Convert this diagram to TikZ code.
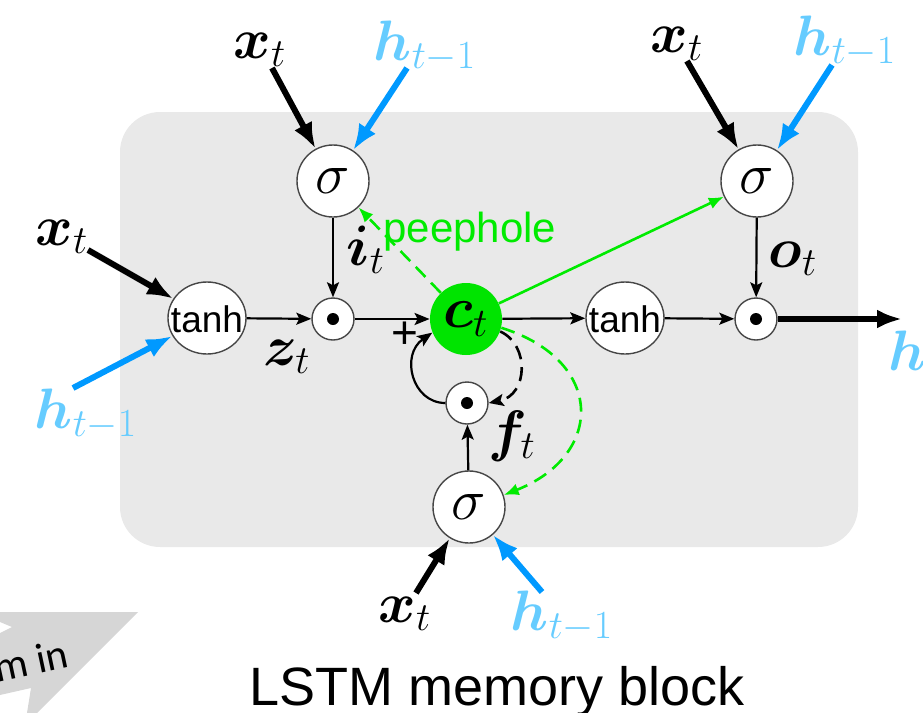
\RequirePackage{fix-cm}
\documentclass[tikz,border=0pt]{standalone}
\usepackage{fontspec}
\usepackage{bm}
\newfontfamily\helv{Liberation Sans}
\newfontfamily\calib{Carlito}
\usetikzlibrary{arrows.meta,shapes.geometric}
\definecolor{boxgray}{RGB}{233,233,233}
\definecolor{zoomgray}{RGB}{214,214,214}
\definecolor{lblue}{RGB}{102,204,255}
\definecolor{ablue}{RGB}{0,153,255}
\definecolor{vgreen}{RGB}{0,235,0}
\definecolor{cgreen}{RGB}{0,228,0}
\definecolor{rim}{RGB}{70,70,70}
\begin{document}
\begin{tikzpicture}[x=0.5pt,y=-0.5pt,
  mlab/.style={inner sep=0pt,anchor=base,font=\fontsize{28.5}{34}\selectfont},
  gate/.style={circle,draw=rim,line width=0.7pt,fill=white,minimum size=36pt,inner sep=0pt,font=\fontsize{29}{34}\selectfont},
  mult/.style={circle,draw=rim,line width=0.7pt,fill=white,minimum size=21pt,inner sep=0pt},
  squash/.style={ellipse,draw=rim,line width=0.7pt,fill=white,minimum width=39pt,minimum height=36pt,inner sep=0pt},
  sqtext/.style={inner sep=0pt,font=\helv\fontsize{18.5}{22}\selectfont},
  flowarrow/.style={line width=1.1pt,-{Stealth[length=7.5pt,width=6pt,inset=1.5pt]}},
  xin/.style={line width=3pt,black,-{Latex[length=13pt,width=10pt]}},
  hin/.style={line width=3pt,ablue,-{Latex[length=13pt,width=10pt]}},
  gdash/.style={line width=1.3pt,vgreen,dash pattern=on 7pt off 4pt,-{Latex[length=7.5pt,width=6pt]}},
  gline/.style={line width=1.3pt,vgreen,-{Latex[length=7.5pt,width=6pt]}},
  kdash/.style={line width=1.3pt,black,dash pattern=on 7pt off 4pt,-{Stealth[length=7.5pt,width=6pt,inset=1.5pt]}},
  outarrow/.style={line width=3.2pt,-{Latex[length=12.5pt,width=9.5pt]}}
]
\useasboundingbox (0,0) rectangle (923,713);
% background block
\fill[boxgray,rounded corners=20pt] (120,112) rectangle (858,547);
% zoom-in arrow fragment
\fill[zoomgray] (0,612) -- (138,612) -- (37,713) -- (27,713) -- (31,688) -- (0,695) -- (0,633) -- (12,627) -- (0,622) -- cycle;
\node[font=\calib\fontsize{21}{25}\selectfont,rotate=12,anchor=base east,inner sep=0pt] (zoomtxt) at (71,667) {zoom in};
% title
\node[font=\helv\fontsize{27}{32}\selectfont,anchor=base,inner sep=0pt] (title) at (497,705) {LSTM memory block};

% nodes
\node[gate] (sigI) at (333,181) {$\sigma$};
\node[gate] (sigO) at (757,181) {$\sigma$};
\node[gate] (sigF) at (469,507) {$\sigma$};
\node[squash] (tanhL) at (207,318) {};
\node[squash] (tanhR) at (625,318) {};
\node[sqtext] (tanhLt) at (207,319) {tanh};
\node[sqtext] (tanhRt) at (625,319) {tanh};
\node[mult] (mulI) at (333,319) {};
\node[mult] (mulO) at (756,319) {};
\node[mult] (mulF) at (467,403) {};
\fill (mulI) circle[radius=3pt];
\fill (mulO) circle[radius=3pt];
\fill (mulF) circle[radius=3pt];
\node[circle,fill=cgreen,minimum size=36pt,inner sep=0pt,font=\fontsize{29}{34}\selectfont] (ct) at (466,319) {$\bm{c}_t$};

% peephole connections
\draw[gdash] (ct) -- (sigI);
\draw[gline] (ct) -- (sigO);
\draw[gdash] (ct.-14) .. controls (605,360) and (605,455) .. (sigF.19);
\node[font=\helv\fontsize{21}{25}\selectfont,text=vgreen,anchor=base west,inner sep=0pt] (peep) at (383,242) {peephole};

% internal flow
\draw[flowarrow] (tanhL) -- (mulI);
\draw[flowarrow] (sigI) -- (mulI);
\draw[flowarrow] (mulI) -- (ct);
\draw[flowarrow] (ct) -- (tanhR);
\draw[flowarrow] (tanhR) -- (mulO);
\draw[flowarrow] (sigO) -- (mulO);
\draw[flowarrow] (sigF) -- (mulF);
\draw[flowarrow] (mulF.west) .. controls (412,403) and (400,355) .. (ct.202);
\draw[kdash] (ct.-20) .. controls (530,345) and (528,395) .. (mulF.east);
\node[font=\helv\fontsize{23}{26}\selectfont,inner sep=0pt] (plus) at (405,335) {+};

% output
\coordinate (hout) at (902,319);
\draw[outarrow] (mulO) -- (hout);

% external inputs
\coordinate (xIs) at (272,68);
\coordinate (hIs) at (407,68);
\coordinate (xOs) at (687,61);
\coordinate (hOs) at (832,65);
\coordinate (xLs) at (88,250);
\coordinate (hLs) at (73,388);
\coordinate (xFs) at (416,593);
\coordinate (hFs) at (542,592);
\draw[xin] (xIs) -- (sigI);
\draw[hin] (hIs) -- (sigI);
\draw[xin] (xOs) -- (sigO);
\draw[hin] (hOs) -- (sigO);
\draw[xin] (xLs) -- (tanhL);
\draw[hin] (hLs) -- (tanhL);
\draw[xin] (xFs) -- (sigF);
\draw[hin] (hFs) -- (sigF);

% labels
\node[mlab] (lxI) at (260,58) {$\bm{x}_t$};
\node[mlab,text=lblue] (lhI) at (425,60) {$\bm{h}_{t-1}$};
\node[mlab] (lxO) at (677,52) {$\bm{x}_t$};
\node[mlab,text=lblue] (lhO) at (845,55) {$\bm{h}_{t-1}$};
\node[mlab] (lxL) at (62,245) {$\bm{x}_t$};
\node[mlab,text=lblue] (lhL) at (86,428) {$\bm{h}_{t-1}$};
\node[mlab] (lxF) at (405,622) {$\bm{x}_t$};
\node[mlab,text=lblue] (lhF) at (562,630) {$\bm{h}_{t-1}$};
\node[mlab,text=lblue,anchor=base west] (lh) at (888,370) {$\bm{h}$};
\node[mlab] (li) at (366,265) {$\bm{i}_t$};
\node[mlab] (lo) at (793,267) {$\bm{o}_t$};
\node[mlab] (lz) at (287,365) {$\bm{z}_t$};
\node[mlab] (lf) at (512,450) {$\bm{f}_t$};
\end{tikzpicture}
\end{document}
